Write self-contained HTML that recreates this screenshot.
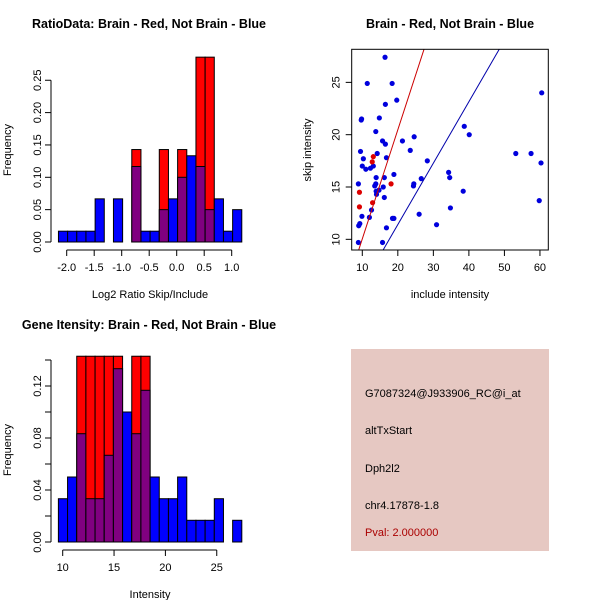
<!DOCTYPE html>
<html><head><meta charset="utf-8"><style>
body{margin:0;background:#fff}
svg{display:block;font-family:"Liberation Sans",sans-serif}
</style></head><body>
<svg id="s" width="600" height="600" viewBox="0 0 600 600">
<rect width="600" height="600" fill="#fff"/>
<text x="149" y="28" text-anchor="middle" font-size="12.5" font-weight="bold">RatioData: Brain - Red, Not Brain - Blue</text>
<text x="450" y="28" text-anchor="middle" font-size="12.5" font-weight="bold">Brain - Red, Not Brain - Blue</text>
<text x="149" y="329" text-anchor="middle" font-size="12.5" font-weight="bold">Gene Itensity: Brain - Red, Not Brain - Blue</text>
<text x="150" y="298" text-anchor="middle" font-size="11">Log2 Ratio Skip/Include</text>
<text transform="translate(11,150) rotate(-90)" text-anchor="middle" font-size="11">Frequency</text>
<text x="450" y="298" text-anchor="middle" font-size="11">include intensity</text>
<text transform="translate(311,150) rotate(-90)" text-anchor="middle" font-size="11">skip intensity</text>
<text x="150" y="598" text-anchor="middle" font-size="11">Intensity</text>
<text transform="translate(11,450) rotate(-90)" text-anchor="middle" font-size="11">Frequency</text>
<g>
<rect x="351" y="349" width="198" height="202" fill="#e6c8c2"/>
<text x="365" y="397" font-size="11">G7087324@J933906_RC@i_at</text>
<text x="365" y="434" font-size="11">altTxStart</text>
<text x="365" y="472" font-size="11">Dph2l2</text>
<text x="365" y="509" font-size="11">chr4.17878-1.8</text>
<text x="365" y="536" font-size="11" fill="#aa0000">Pval: 2.000000</text>
</g>
</svg>
<script>
// ---- Ratio histogram data ----
const ratioStart = -2.15, ratioBinW = 0.16667;
const ratioBlue = [0.0167,0.0167,0.0167,0.0167,0.0667,0,0.0667,0,0.1167,0.0167,0.0167,0.05,0.0667,0.1,0.1333,0.1167,0.05,0.0667,0.0167,0.05];
const ratioRed  = [0,0,0,0,0,0,0,0,0.1429,0,0,0.1429,0,0.1429,0,0.2857,0.2857,0,0,0];
const ratioXTicks = ["-2.0","-1.5","-1.0","-0.5","0.0","0.5","1.0"];
const ratioYTicks = ["0.00","0.05","0.10","0.15","0.20","0.25"];
// ---- Intensity histogram data ----
const intStart = 9.58, intBinW = 0.893;
const intBlue = [0.0333,0.05,0.0833,0.0333,0.0333,0.0667,0.1333,0.1,0.0833,0.1167,0.05,0.0333,0.0333,0.05,0.0167,0.0167,0.0167,0.0333,0,0.0167];
const intRed  = [0,0,0.1429,0.1429,0.1429,0.1429,0.1429,0,0.1429,0.1429,0,0,0,0,0,0,0,0,0,0];
const intXTicks = ["10","15","20","25"];
const intYTicks = ["0.00","0.04","0.08","0.12"];
// ---- Scatter data ----
const notBrainX = [16.4,11.4,18.4,19.7,16.5,9.7,9.8,14.8,13.8,38.7,40.1,24.6,21.3,15.7,16.5,9.5,14.2,23.5,53.2,57.5,16.8,10.3,28.3,60.3,10.0,11.0,12.3,13.1,34.3,18.9,13.9,16.2,34.6,26.6,8.9,13.8,13.5,24.5,24.4,15.9,14.7,13.9,14.0,16.2,38.4,59.8,34.8,12.6,26.0,9.9,12.0,18.9,18.5,30.9,9.3,9.0,16.8,8.9,15.7,60.5];
const notBrainY = [27.4,24.9,24.9,23.3,22.9,21.4,21.5,21.6,20.3,20.8,20.0,19.8,19.4,19.4,19.1,18.4,18.2,18.5,18.2,18.2,17.8,17.7,17.5,17.3,17.0,16.7,16.8,17.0,16.4,16.2,15.9,15.9,15.9,15.8,15.3,15.3,15.1,15.3,15.1,15.0,14.7,14.6,14.3,14.0,14.6,13.7,13.0,12.8,12.4,12.2,12.1,12.0,12.0,11.4,11.5,11.3,11.1,9.7,9.7,24.0];
const brainX = [13.1,12.8,9.2,9.2,12.9,18.1];
const brainY = [17.9,17.4,14.5,13.1,13.5,15.3];
const lineSlope = [1.043, 0.587];
const lineIntercept = [-0.39, -0.33];
const lineColor = ["#cc0000","#0000aa"];
const scXTicks = [10,20,30,40,50,60];
const scYTicks = [10,15,20,25];

const NS="http://www.w3.org/2000/svg";
const svg=document.getElementById('s');
function mk(tag,attrs,parent){const e=document.createElementNS(NS,tag);for(const k in attrs)e.setAttribute(k,attrs[k]);(parent||svg).appendChild(e);return e;}

function hist(opt){
  const g=mk('g',{});
  
  
  const sx=v=>opt.x0+(v-opt.xv0)*opt.xs, sy=v=>opt.y0-v*opt.ys;
  opt.blue.forEach((b,i)=>{
    const r=opt.red[i], a=opt.start+i*opt.bw, xa=sx(a), w=opt.bw*opt.xs;
    const hi=Math.max(b,r), lo=Math.min(b,r);
    if(hi>0){
      const rc=mk('rect',{x:xa,y:sy(hi),width:w,height:sy(0)-sy(hi),fill:r>b?'#ff0000':'#0000ff',stroke:'#000','stroke-width':1},g);
      
      
    }
    if(lo>0){
      const pc=mk('rect',{x:xa,y:sy(lo),width:w,height:sy(0)-sy(lo),fill:'#800080',stroke:'#000','stroke-width':1},g);
      
      
    }
  });
  const ya=mk('g',{});
  
  
  const yt=opt.yTickVals;
  mk('line',{x1:opt.yaxX,x2:opt.yaxX,y1:sy(yt[0]),y2:sy(yt[yt.length-1]),stroke:'#000'},ya);
  yt.forEach(v=>mk('line',{x1:opt.yaxX-6,x2:opt.yaxX,y1:sy(v),y2:sy(v),stroke:'#000'},ya));
  opt.yTicks.forEach(l=>{const v=parseFloat(l);const t=mk('text',{transform:`translate(${opt.yaxX-10},${sy(v)}) rotate(-90)`,'text-anchor':'middle','font-size':11},ya);t.textContent=l;});
  const xa=mk('g',{});
  
  
  const xv=opt.xTicks.map(parseFloat);
  mk('line',{x1:sx(xv[0]),x2:sx(xv[xv.length-1]),y1:opt.xaxY,y2:opt.xaxY,stroke:'#000'},xa);
  opt.xTicks.forEach(l=>{const v=parseFloat(l);mk('line',{x1:sx(v),x2:sx(v),y1:opt.xaxY,y2:opt.xaxY+6,stroke:'#000'},xa);const t=mk('text',{x:sx(v),y:opt.xaxY+21,'text-anchor':'middle','font-size':11},xa);t.textContent=l;});
}
hist({name:'ratio-histogram',blue:ratioBlue,red:ratioRed,start:ratioStart,bw:ratioBinW,x0:66.7,xv0:-2,xs:55,y0:242,ys:647,
  yaxX:51,xaxY:250,xTicks:ratioXTicks,yTicks:ratioYTicks,yTickVals:[0,0.05,0.1,0.15,0.2,0.25]});
hist({name:'intensity-histogram',blue:intBlue,red:intRed,start:intStart,bw:intBinW,x0:62.7,xv0:10,xs:10.27,y0:542,ys:1300,
  yaxX:51,xaxY:550,xTicks:intXTicks,yTicks:intYTicks,yTickVals:[0,0.02,0.04,0.06,0.08,0.1,0.12,0.14]});

const L=351.7,R=548.3,T=49.3,B=250;
const xmin=7.02,xmax=62.35,ymin=8.98,ymax=28.16;
const X=v=>L+(v-xmin)/(xmax-xmin)*(R-L), Y=v=>B-(v-ymin)/(ymax-ymin)*(B-T);
const sg=mk('g',{});


const clip=mk('clipPath',{id:'cp'},sg);mk('rect',{x:L,y:T,width:R-L,height:B-T},clip);
notBrainX.forEach((x,i)=>{const c=mk('circle',{cx:X(x),cy:Y(notBrainY[i]),r:2.6,fill:'#0000dd'},sg);
  
  });
brainX.forEach((x,i)=>{const c=mk('circle',{cx:X(x),cy:Y(brainY[i]),r:2.6,fill:'#dd0000'},sg);
  
  });
lineSlope.forEach((m,i)=>{const b=lineIntercept[i];
  const ln=mk('line',{x1:X(xmin),y1:Y(m*xmin+b),x2:X(xmax),y2:Y(m*xmax+b),stroke:lineColor[i],'stroke-width':1,'clip-path':'url(#cp)'},sg);
  
  });
const box=mk('rect',{x:L,y:T,width:R-L,height:B-T,fill:'none',stroke:'#000'},sg);


const sxa=mk('g',{});


scXTicks.forEach(v=>{mk('line',{x1:X(v),x2:X(v),y1:B,y2:B+6,stroke:'#000'},sxa);const t=mk('text',{x:X(v),y:B+21,'text-anchor':'middle','font-size':11},sxa);t.textContent=v;});
const sya=mk('g',{});


scYTicks.forEach(v=>{mk('line',{x1:L-6,x2:L,y1:Y(v),y2:Y(v),stroke:'#000'},sya);const t=mk('text',{transform:`translate(${L-12},${Y(v)}) rotate(-90)`,'text-anchor':'middle','font-size':11},sya);t.textContent=v;});
</script>
</body></html>
